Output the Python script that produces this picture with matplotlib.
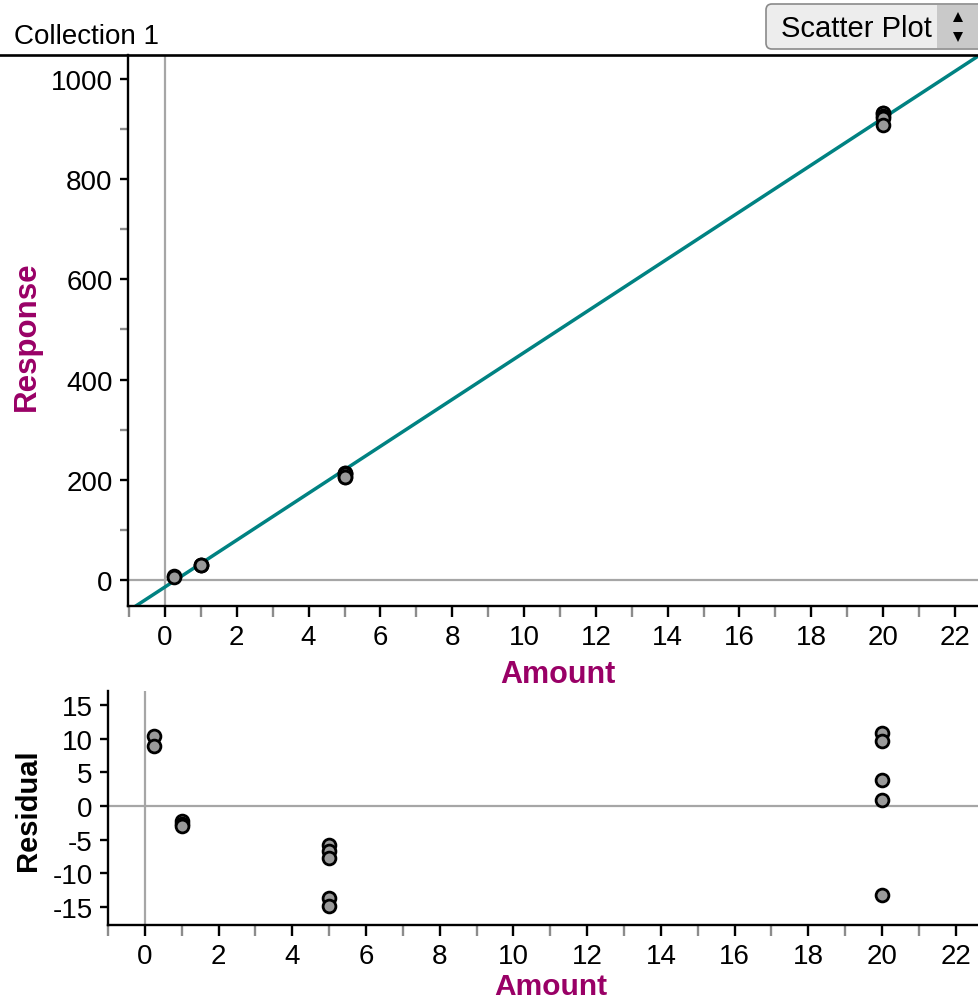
"""
Fathom-style scatter plot with least squares line and residual plot
"""

import matplotlib.pyplot as plt
from matplotlib.lines import Line2D
from matplotlib.patches import FancyBboxPatch, Polygon
from matplotlib.ticker import MultipleLocator

plt.rcParams["font.family"] = ["Liberation Sans", "DejaVu Sans"]
plt.rcParams["axes.unicode_minus"] = False

# data
amount = [0.25, 0.25, 1, 1, 1, 5, 5, 5, 5, 5, 20, 20, 20, 20, 20]
residual = [10.4, 8.9, -2.2, -2.7, -3.0, -5.8, -6.7, -7.7, -13.7, -14.9,
            10.9, 9.7, 3.8, 0.9, -13.3]
line_intercept = -14.0
line_slope = 46.8
response = [line_intercept + line_slope * a + r for a, r in zip(amount, residual)]

x_ticks = list(range(0, 23, 2))
resp_ticks = [0, 200, 400, 600, 800, 1000]
resid_ticks = [-15, -10, -5, 0, 5, 10, 15]

W, H = 979, 1003
label_color = "#990066"
line_color = "#008282"
ref_gray = "#a6a6a6"
point_fill = "#9a9a9a"
tick_fs = 20
label_fs = 22


def px_box(left, top, right, bottom):
    return [left / W, 1 - bottom / H, (right - left) / W, (bottom - top) / H]


def style_axis(ax, yminor=None):
    for side in ("top", "right"):
        ax.spines[side].set_visible(False)
    for side in ("left", "bottom"):
        ax.spines[side].set_linewidth(1.7)
    ax.xaxis.set_minor_locator(MultipleLocator(1))
    if yminor:
        ax.yaxis.set_minor_locator(MultipleLocator(yminor))
    ax.tick_params(which="major", direction="out", length=6, width=1.7,
                   color="black", labelsize=tick_fs, pad=5)
    ax.tick_params(which="minor", direction="out", length=6, width=1.7,
                   color="#8c8c8c")
    ax.tick_params(axis="x", which="both", length=8)
    ax.axhline(0, color=ref_gray, lw=1.6, zorder=1)
    ax.axvline(0, color=ref_gray, lw=1.6, zorder=1)


fig = plt.figure(figsize=(W / 100, H / 100), dpi=100, facecolor="white")

# main scatter plot
ax1 = fig.add_axes(px_box(128, 56, 979, 607))
style_axis(ax1, yminor=100)
ax1.set_xlim(-1.03, 22.67)
ax1.set_ylim(-52, 1048)
ax1.set_xticks(x_ticks)
ax1.set_yticks(resp_ticks)
xs = [-1.03, 22.67]
ax1.plot(xs, [line_intercept + line_slope * x for x in xs], color=line_color,
         lw=2.5, zorder=2)
ax1.scatter(amount, response, s=85, facecolor=point_fill, edgecolor="black",
            linewidth=2.0, zorder=3)

# residual plot
ax2 = fig.add_axes(px_box(108, 692, 979, 926))
style_axis(ax2)
ax2.set_xlim(-1.0, 22.63)
ax2.set_ylim(-17.7, 17.1)
ax2.set_xticks(x_ticks)
ax2.set_yticks(resid_ticks)
ax2.scatter(amount, residual, s=85, facecolor=point_fill, edgecolor="black",
            linewidth=2.0, zorder=3)

# axis titles
fig.text(558 / W, 1 - 675 / H, "Amount", color=label_color, fontsize=label_fs,
         fontweight="bold", ha="center", va="center")
fig.text(551 / W, 1 - 987 / H, "Amount", color=label_color,
         fontsize=label_fs - 0.5, fontweight="bold", ha="center", va="center")
fig.text(27 / W, 1 - 336 / H, "Response", color=label_color,
         fontsize=label_fs + 0.5, fontweight="bold", rotation=90, ha="center",
         va="center")
fig.text(28 / W, 1 - 810 / H, "Residual", color="black", fontsize=label_fs - 1,
         fontweight="bold", rotation=90, ha="center", va="center")

# header
fig.add_artist(Line2D([0, 1], [1 - 56 / H, 1 - 56 / H], color="black", lw=1.9,
                      transform=fig.transFigure))
fig.text(14 / W, 1 - 37 / H, "Collection 1", fontsize=tick_fs, ha="left",
         va="center")

button = FancyBboxPatch((766 / W, 1 - 50 / H), 220 / W, 45 / H,
                        boxstyle="round,pad=0,rounding_size=0.006",
                        transform=fig.transFigure, facecolor="#ededed",
                        edgecolor="#8a8a8a", lw=1.2)
fig.add_artist(button)
spinner = FancyBboxPatch((937 / W, 1 - 49 / H), 45 / W, 43 / H,
                         boxstyle="square,pad=0", transform=fig.transFigure,
                         facecolor="#c9c9c9", edgecolor="none")
fig.add_artist(spinner)
fig.text(856 / W, 1 - 29 / H, "Scatter Plot", fontsize=tick_fs + 1,
         ha="center", va="center")
for tip, base in ((13, 23), (43, 33)):
    fig.add_artist(Polygon([(953 / W, 1 - base / H), (963 / W, 1 - base / H),
                            (958 / W, 1 - tip / H)], closed=True,
                           transform=fig.transFigure, facecolor="black",
                           edgecolor="none"))

fig.savefig("out.png", dpi=100, facecolor="white")
plt.close(fig)
